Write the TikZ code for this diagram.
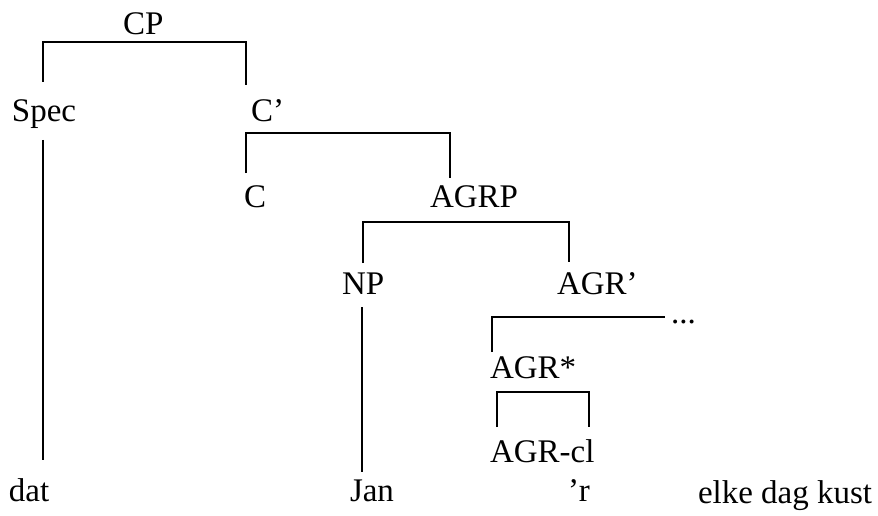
\documentclass[tikz,border=0pt]{standalone}
\usepackage{fontspec}
\setmainfont{Liberation Serif}
\begin{document}
\begin{tikzpicture}[x=1pt,y=-1pt,
  lbl/.style={anchor=base west,inner sep=0pt,outer sep=0pt,font=\fontsize{33}{40}\selectfont},
  branch/.style={line width=1.8pt,line cap=butt,line join=miter}]
\useasboundingbox (0,0) rectangle (878,516);
% labels
\node[lbl] (cp)    at (123,35)  {CP};
\node[lbl] (spec)  at (12,122)  {Spec};
\node[lbl] (cbar)  at (251,122) {C’};
\node[lbl] (c)     at (244,207) {C};
\node[lbl] (agrp)  at (430,207) {AGRP};
\node[lbl] (np)    at (342,294) {NP};
\node[lbl] (agrbar) at (557,294) {AGR’};
\node[lbl] (dots)  at (671,323) {...};
\node[lbl] (agrst) at (490,378) {AGR*};
\node[lbl] (agrcl) at (490,462) {AGR-cl};
\node[lbl] (dat)   at (9,501)   {dat};
\node[lbl] (jan)   at (350,501) {Jan};
\node[lbl] (r)     at (568,501) {’r};
\node[lbl] (rest)  at (698,503) {elke dag kust};
% bracket coordinates
\coordinate (cpL) at (43,42);   \coordinate (cpR) at (246,42);
\coordinate (specT) at (43,82); \coordinate (cbarT) at (246,85);
\coordinate (specB) at (43,140); \coordinate (datT) at (43,460);
\coordinate (cbL) at (246,133); \coordinate (cbR) at (450,133);
\coordinate (cT) at (246,173);  \coordinate (agrpT) at (450,178);
\coordinate (apL) at (363,222); \coordinate (apR) at (569,222);
\coordinate (npT) at (363,263); \coordinate (agrbT) at (569,262);
\coordinate (npB) at (362,307); \coordinate (janT) at (362,472);
\coordinate (abL) at (492,317); \coordinate (abR) at (665,317);
\coordinate (agrsT) at (492,352);
\coordinate (asL) at (497,392); \coordinate (asR) at (589,392);
\coordinate (aclT) at (497,427); \coordinate (aclR) at (589,427);
% branches
\draw[branch] (specT) -- (cpL) -- (cpR) -- (cbarT);
\draw[branch] (specB) -- (datT);
\draw[branch] (cT) -- (cbL) -- (cbR) -- (agrpT);
\draw[branch] (npT) -- (apL) -- (apR) -- (agrbT);
\draw[branch] (npB) -- (janT);
\draw[branch] (agrsT) -- (abL) -- (abR);
\draw[branch] (aclT) -- (asL) -- (asR) -- (aclR);
\end{tikzpicture}
\end{document}
